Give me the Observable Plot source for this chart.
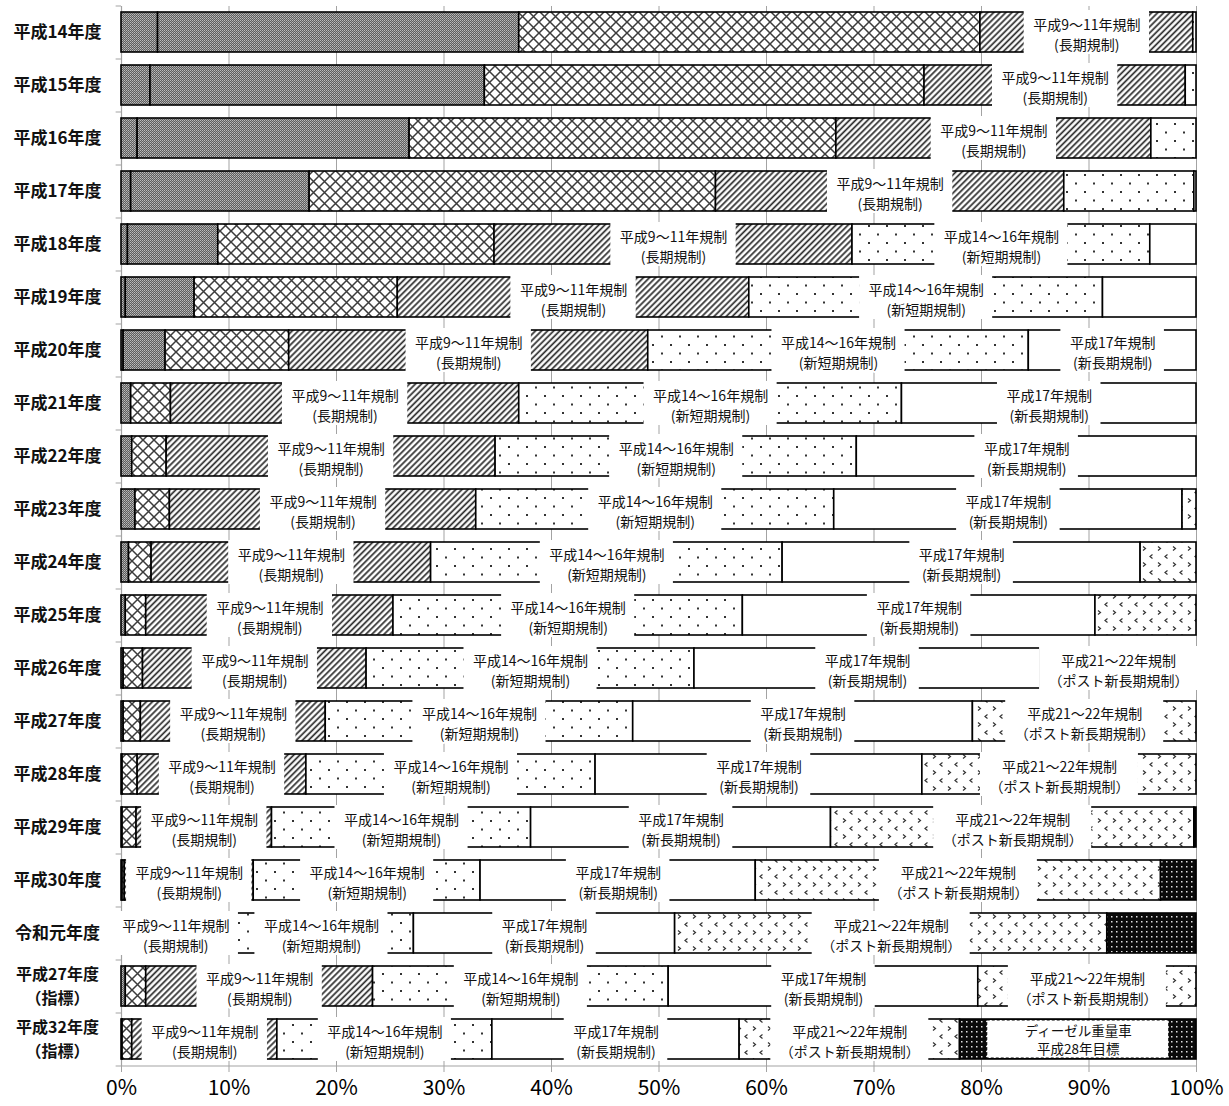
<!DOCTYPE html>
<html><head><meta charset="utf-8">
<script src="https://cdn.jsdelivr.net/npm/d3@7"></script>
<script src="https://cdn.jsdelivr.net/npm/@observablehq/plot@0.6"></script>
<style>body{margin:0;background:#fff;} svg{display:block}</style>
</head><body><div id="chart"></div>
<script>
// ---- data (shares in %) ----
const categories = ["平成14年度","平成15年度","平成16年度","平成17年度","平成18年度","平成19年度","平成20年度","平成21年度","平成22年度","平成23年度","平成24年度","平成25年度","平成26年度","平成27年度","平成28年度","平成29年度","平成30年度","令和元年度","平成27年度\n（指標）","平成32年度\n（指標）"];
const seriesKeys = ["pre","h1","h6","h9","h14","h17","h21","h28"];
const seriesNames = ["規制前","平成元年規制","平成6～7年規制","平成9～11年規制","平成14～16年規制","平成17年規制","平成21～22年規制","ディーゼル重量車平成28年目標"];
const pre  = [3.4,2.7,1.5,0.9,0.6,0.4,0.2,0,0,0,0,0,0,0,0,0,0,0,0,0];
const h1   = [33.6,31.1,25.3,16.6,8.4,6.4,3.9,0.9,1.0,1.3,0.7,0.4,0.2,0.2,0.1,0.1,0.1,0,0.4,0.1];
const h6   = [42.9,40.9,39.7,37.8,25.7,18.9,11.5,3.7,3.2,3.2,2.1,1.9,1.8,1.6,1.4,1.3,0.2,0.1,1.9,0.9];
const h9   = [19.8,24.3,29.3,32.4,33.3,32.7,33.4,32.4,30.6,28.5,26.0,23.0,20.8,17.2,15.7,12.6,12.0,9.9,21.1,13.5];
const h14  = [0.3,1.0,4.2,12.1,27.7,32.9,35.4,35.6,33.6,33.3,32.7,32.5,30.5,28.6,26.9,24.1,21.1,17.2,27.5,20.0];
const h17  = [0,0,0,0.2,4.3,8.7,15.6,27.4,31.6,32.4,33.3,32.8,32.2,31.6,30.4,27.9,25.6,24.3,28.8,23.0];
const h21  = [0,0,0,0,0,0,0,0,0,1.3,5.2,9.4,14.5,20.8,25.5,33.8,37.7,40.2,20.3,20.5];
const h28  = [0,0,0,0,0,0,0,0,0,0,0,0,0,0,0,0.2,3.3,8.3,0,22.0];
const xTicks = [0,10,20,30,40,50,60,70,80,90,100];
const labelTexts = {
  h9:  "平成9～11年規制\n(長期規制)",
  h14: "平成14～16年規制\n(新短期規制)",
  h17: "平成17年規制\n(新長期規制)",
  h21: "平成21～22年規制\n（ポスト新長期規制）",
  h28: "ディーゼル重量車\n平成28年目標"
};

// ---- build table ----
const values = {pre, h1, h6, h9, h14, h17, h21, h28};
const segments = [];
categories.forEach((cat, i) => {
  let acc = 0;
  seriesKeys.forEach(k => {
    const v = values[k][i];
    if (v > 0) segments.push({cat, key: k, v, x1: acc, x2: acc + v});
    acc += v;
  });
});
const catLines = categories.flatMap(c => {
  const parts = c.split("\n");
  return parts.map((s, j) => ({cat: c, s, pos: parts.length === 1 ? 0 : (j === 0 ? -1 : 1)}));
});

const W = 1229, H = 1106, ML = 121, MR = 33, MT = 6, MB = 40;
const pxPerPct = (W - ML - MR) / 100;
const fontFam = "'Noto Sans CJK JP','Noto Sans',sans-serif";
const ctx = document.createElement("canvas").getContext("2d");
ctx.font = `14px ${fontFam}`;
const textW = t => Math.max(...t.split("\n").map(s => ctx.measureText(s).width));

const labels = segments.filter(s => labelTexts[s.key] && (s.key === "h9" || s.v >= 12.5)).map(s => {
  const w = textW(labelTexts[s.key]);
  const pad = s.key === "h28" ? 70 : 18;
  const hw = (w + pad) / 2 / pxPerPct;
  const cx = (s.x1 + s.x2) / 2;
  return {cat: s.cat, key: s.key, text: labelTexts[s.key], cx, lo: cx - hw, hi: cx + hw};
});
const normalLabels = labels.filter(d => d.key !== "h28");
const boxLabels = labels.filter(d => d.key === "h28");
const gridIn = [];
normalLabels.forEach(d => xTicks.slice(1).forEach(t => { if (t > d.lo && t < d.hi) gridIn.push({cat: d.cat, t}); }));

const fills = {pre:"url(#pGrey)", h1:"url(#pGrey)", h6:"url(#pCross)", h9:"url(#pDiag)", h14:"url(#pDots)", h17:"white", h21:"url(#pArrow)", h28:"url(#pBlack)"};
const gridColor = "#a3a3a3";
const last = categories[categories.length - 1];
const catText = (pos, dy, fontSize) => Plot.text(catLines.filter(d => d.pos === pos), {
  y: "cat", text: "s", frameAnchor: "left", dx: -64, dy, textAnchor: "middle",
  fontSize, fontWeight: "bold", fill: "#111"
});

const chart = Plot.plot({
  width: W, height: H,
  marginLeft: ML, marginRight: MR, marginTop: MT, marginBottom: MB,
  style: {fontFamily: fontFam, background: "white"},
  x: {domain: [0, 100], axis: null},
  y: {domain: categories, paddingInner: 0.236, paddingOuter: 0.118, axis: null},
  marks: [
    Plot.ruleX(xTicks.slice(1), {stroke: gridColor, strokeWidth: 1}),
    Plot.ruleX([0], {stroke: gridColor, strokeWidth: 1.2}),
    Plot.ruleY(categories, {y: d => d, x1: -0.5, x2: 0, dy: -26.5, stroke: gridColor}),
    Plot.ruleY([last], {y: d => d, x1: -0.5, x2: 100, dy: 26.5, stroke: gridColor}),
    Plot.axisX({ticks: xTicks, tickSize: 6, tickFormat: () => "", stroke: gridColor}),
    Plot.axisX({ticks: xTicks, tickSize: 0, tickPadding: 14, fontSize: 21, tickFormat: d => d + "%", fill: "black"}),
    catText(0, 0, 17), catText(-1, -12, 16), catText(1, 12, 16),
    ...seriesKeys.map(k => Plot.barX(segments.filter(s => s.key === k), {
      x1: "x1", x2: "x2", y: "cat", fill: fills[k], stroke: "black", strokeWidth: 1.6
    })),
    Plot.barX(normalLabels, {x1: "lo", x2: "hi", y: "cat", fill: "white", insetTop: -2, insetBottom: -2}),
    Plot.ruleX(gridIn, {x: "t", y: "cat", stroke: gridColor, insetTop: -2, insetBottom: -2}),
    Plot.barX(boxLabels, {x1: "lo", x2: "hi", y: "cat", fill: "white", stroke: "black", strokeWidth: 1, strokeDasharray: "3,2", insetTop: 1, insetBottom: 1}),
    Plot.text(normalLabels, {x: "cx", y: "cat", text: "text", fontSize: 14, lineHeight: 1.43, dy: 1, fill: "#111", stroke: "white", strokeWidth: 4, paintOrder: "stroke"}),
    Plot.text(boxLabels, {x: "cx", y: "cat", text: "text", fontSize: 13.5, lineHeight: 1.32, dy: 0, fill: "#111"})
  ]
});

const defs = `
<pattern id="pGrey" width="2" height="2" patternUnits="userSpaceOnUse">
  <rect width="2" height="2" fill="#5e5e5e"/>
  <rect x="0" y="0" width="1" height="1" fill="#bdbdbd"/>
  <rect x="1" y="1" width="1" height="1" fill="#a0a0a0"/>
</pattern>
<pattern id="pCross" width="11" height="11" patternUnits="userSpaceOnUse">
  <rect width="11" height="11" fill="white"/>
  <path d="M-1,-1L12,12M12,-1L-1,12" stroke="#3c3c3c" stroke-width="1.5"/>
</pattern>
<pattern id="pDiag" width="4.3" height="4.3" patternUnits="userSpaceOnUse" patternTransform="rotate(45)">
  <rect width="4.3" height="4.3" fill="white"/>
  <line x1="2" y1="-1" x2="2" y2="6" stroke="#2a2a2a" stroke-width="1.7"/>
</pattern>
<pattern id="pDots" width="18" height="17" patternUnits="userSpaceOnUse">
  <rect width="18" height="17" fill="white"/>
  <rect x="4" y="4" width="2" height="2" fill="#333"/>
  <rect x="13" y="12.5" width="2" height="2" fill="#333"/>
</pattern>
<pattern id="pArrow" width="15" height="16" patternUnits="userSpaceOnUse">
  <rect width="15" height="16" fill="white"/>
  <path d="M3,2.5L5.5,4.5L3,6.5" fill="none" stroke="#333" stroke-width="1.2"/>
  <path d="M12.5,10.5L10,12.5L12.5,14.5" fill="none" stroke="#333" stroke-width="1.2"/>
</pattern>
<pattern id="pBlack" width="5" height="5" patternUnits="userSpaceOnUse">
  <rect width="5" height="5" fill="#0a0a0a"/>
  <rect x="1" y="1" width="1.5" height="1.5" fill="#e0e0e0"/>
</pattern>`;
const svg = chart.tagName.toLowerCase() === "svg" ? chart : chart.querySelector("svg");
d3.select(svg).insert("defs", ":first-child").html(defs);
document.getElementById("chart").appendChild(chart);
</script>
</body></html>
